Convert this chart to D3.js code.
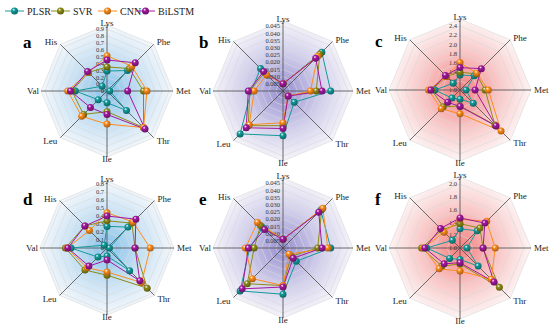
<!DOCTYPE html>
<html lang="en">
<head>
<meta charset="UTF-8">
<title>Radar</title>
<script src="https://d3js.org/d3.v7.min.js"></script>
<style>
  body { margin: 0; background: #fff; }
  text { font-family: "Liberation Serif", "DejaVu Serif", serif; }
</style>
</head>
<body>
<svg id="chart" width="550" height="325"></svg>
<script>
// axes, clockwise from the top
const axes = ["Lys", "Phe", "Met", "Thr", "Ile", "Leu", "Val", "His"];
const models = ["PLSR", "SVR", "CNN", "BiLSTM"];
const modelColors = ["#139a9a", "#8c8c14", "#ff8c1a", "#a3189f"];

// values per panel, order of axes
const aPLSR   = [0.29, 0.42, 0.04, 0.40, 0.17, 0.18, 0.46, 0.10];
const aSVR    = [0.35, 0.46, 0.53, 0.75, 0.30, 0.48, 0.51, 0.38];
const aCNN    = [0.51, 0.51, 0.58, 0.75, 0.48, 0.52, 0.57, 0.38];
const aBiLSTM = [0.45, 0.58, 0.30, 0.78, 0.34, 0.34, 0.53, 0.40];

const bPLSR   = [0.005, 0.038, 0.033, 0.011, 0.031, 0.042, 0.022, 0.022];
const bSVR    = [0.005, 0.036, 0.023, 0.005, 0.024, 0.034, 0.023, 0.018];
const bCNN    = [0.005, 0.034, 0.019, 0.005, 0.022, 0.033, 0.020, 0.016];
const bBiLSTM = [0.005, 0.032, 0.027, 0.005, 0.026, 0.036, 0.024, 0.019];

const cPLSR   = [1.33, 1.44, 1.13, 1.41, 1.20, 1.25, 1.55, 1.21];
const cSVR    = [1.39, 1.50, 1.55, 2.08, 1.35, 1.52, 1.62, 1.42];
const cCNN    = [1.60, 1.52, 1.62, 2.27, 1.52, 1.58, 1.69, 1.42];
const cBiLSTM = [1.49, 1.66, 1.33, 2.11, 1.36, 1.38, 1.64, 1.45];

const dPLSR   = [0.27, 0.37, 0.03, 0.40, 0.10, 0.16, 0.45, 0.05];
const dSVR    = [0.34, 0.44, 0.35, 0.71, 0.34, 0.39, 0.52, 0.39];
const dCNN    = [0.44, 0.46, 0.54, 0.61, 0.30, 0.35, 0.50, 0.31];
const dBiLSTM = [0.40, 0.51, 0.35, 0.58, 0.15, 0.32, 0.49, 0.39];

const ePLSR   = [0.006, 0.037, 0.033, 0.013, 0.032, 0.042, 0.023, 0.020];
const eSVR    = [0.006, 0.038, 0.024, 0.008, 0.026, 0.035, 0.020, 0.022];
const eCNN    = [0.006, 0.039, 0.031, 0.006, 0.026, 0.030, 0.026, 0.025];
const eBiLSTM = [0.006, 0.035, 0.027, 0.010, 0.027, 0.040, 0.024, 0.018];

const fPLSR   = [1.30, 1.38, 1.11, 1.40, 1.18, 1.23, 1.52, 1.17];
const fSVR    = [1.38, 1.44, 1.36, 1.87, 1.25, 1.40, 1.60, 1.40];
const fCNN    = [1.45, 1.59, 1.55, 1.69, 1.36, 1.46, 1.57, 1.35];
const fBiLSTM = [1.47, 1.55, 1.36, 1.75, 1.23, 1.35, 1.55, 1.43];

// tick labels on the Lys axis
const ticksA = ["0", "0.1", "0.2", "0.3", "0.4", "0.5", "0.6", "0.7", "0.8", "0.9"];
const ticksB = ["0.005", "0.010", "0.015", "0.020", "0.025", "0.030", "0.035", "0.040", "0.045"];
const ticksC = ["1.0", "1.2", "1.4", "1.6", "1.8", "2.0", "2.2", "2.4"];
const ticksD = ["0", "0.1", "0.2", "0.3", "0.4", "0.5", "0.6", "0.7", "0.8"];
const ticksF = ["1.0", "1.2", "1.4", "1.6", "1.8", "2.0"];

const panels = [
  {id: "a", cx: 107, cy: 91,  rOut: 66, base: 0,   top: 0.9,   rTop: 62, ticks: ticksA, theme: "blue",   data: [aPLSR, aSVR, aCNN, aBiLSTM]},
  {id: "b", cx: 283, cy: 91,  rOut: 70, base: 0,   top: 0.045, rTop: 65, ticks: ticksB, theme: "purple", data: [bPLSR, bSVR, bCNN, bBiLSTM]},
  {id: "c", cx: 460, cy: 90,  rOut: 71, base: 1.0, top: 2.4,   rTop: 64, ticks: ticksC, theme: "red",    data: [cPLSR, cSVR, cCNN, cBiLSTM]},
  {id: "d", cx: 107, cy: 248, rOut: 67, base: 0,   top: 0.8,   rTop: 64, ticks: ticksD, theme: "blue",   data: [dPLSR, dSVR, dCNN, dBiLSTM]},
  {id: "e", cx: 283, cy: 248, rOut: 70, base: 0,   top: 0.045, rTop: 65, ticks: ticksB, theme: "purple", data: [ePLSR, eSVR, eCNN, eBiLSTM]},
  {id: "f", cx: 460, cy: 248, rOut: 71, base: 1.0, top: 2.0,   rTop: 64, ticks: ticksF, theme: "red",    data: [fPLSR, fSVR, fCNN, fBiLSTM]}
];

const themes = {
  blue:   ["#86c1ea", "#cbe3f5", "#f5f8fb"],
  purple: ["#968fcf", "#d2cfec", "#f6f5fa"],
  red:    ["#f37f7f", "#f9c8c8", "#fdf5f5"]
};

const svg = d3.select("#chart");
const defs = svg.append("defs");

Object.entries(themes).forEach(([k, c]) => {
  const g = defs.append("radialGradient").attr("id", "bg-" + k);
  g.append("stop").attr("offset", "0%").attr("stop-color", c[0]);
  g.append("stop").attr("offset", "55%").attr("stop-color", c[1]);
  g.append("stop").attr("offset", "100%").attr("stop-color", c[2]);
});

models.forEach((m, i) => {
  const g = defs.append("radialGradient").attr("id", "ball-" + i)
    .attr("cx", "38%").attr("cy", "32%").attr("r", "70%");
  g.append("stop").attr("offset", "0%").attr("stop-color", "#ffffff");
  g.append("stop").attr("offset", "30%").attr("stop-color", modelColors[i]);
  g.append("stop").attr("offset", "100%").attr("stop-color", d3.color(modelColors[i]).darker(1.2));
});

const angle = i => i * Math.PI / 4;

panels.forEach(p => {
  const g = svg.append("g").attr("transform", `translate(${p.cx},${p.cy})`);
  const r = d3.scaleLinear().domain([p.base, p.top]).range([0, p.rTop]);
  const pt = (rad, i) => [rad * Math.sin(angle(i)), -rad * Math.cos(angle(i))];
  const octagon = rad => axes.map((a, i) => pt(rad, i));

  g.append("polygon")
    .attr("points", octagon(p.rOut).join(" "))
    .attr("fill", `url(#bg-${p.theme})`);

  // rings
  const tickVals = p.ticks.map(Number).filter(v => v > p.base);
  tickVals.concat([r.invert(p.rOut)]).forEach(v => {
    g.append("polygon")
      .attr("points", octagon(r(v)).join(" "))
      .attr("fill", "none")
      .attr("stroke", "#d9d9d9")
      .attr("stroke-width", 0.6);
  });

  // spokes
  axes.forEach((a, i) => {
    const [x, y] = pt(p.rOut, i);
    g.append("line").attr("x1", 0).attr("y1", 0).attr("x2", x).attr("y2", y)
      .attr("stroke", "#4a4a4a").attr("stroke-width", 0.8);
  });

  // tick labels
  g.selectAll(".tk").data(p.ticks).join("text")
    .attr("x", -3)
    .attr("y", d => -r(+d))
    .attr("dy", "0.35em")
    .attr("text-anchor", "end")
    .attr("font-size", 6.5)
    .attr("fill", "#333")
    .text(d => d);

  // axis names
  axes.forEach((a, i) => {
    const s = Math.sin(angle(i)), c = -Math.cos(angle(i));
    let x = p.rOut * s, y = p.rOut * c, anchor = "middle", dy = "0.35em";
    if (i === 0) { y += 1; dy = "0"; }
    else if (i === 4) { y += 2; dy = "0.35em"; }
    else if (i === 2) { x += 3; anchor = "start"; }
    else if (i === 6) { x -= 2; anchor = "end"; }
    else {
      x += s > 0 ? 3 : -3;
      y += c > 0 ? 3 : -2;
      anchor = s > 0 ? "start" : "end";
    }
    g.append("text").attr("x", x).attr("y", y).attr("dy", dy)
      .attr("text-anchor", anchor).attr("font-size", 9).attr("fill", "#222")
      .text(a);
  });

  // series
  const line = d3.lineRadial()
    .angle((d, i) => angle(i))
    .radius(d => r(d))
    .curve(d3.curveLinearClosed);

  p.data.forEach((vals, k) => {
    g.append("path").attr("d", line(vals))
      .attr("fill", "none").attr("stroke", modelColors[k]).attr("stroke-width", 1);
  });
  p.data.forEach((vals, k) => {
    g.selectAll(null).data(vals).join("circle")
      .attr("cx", (d, i) => pt(r(d), i)[0])
      .attr("cy", (d, i) => pt(r(d), i)[1])
      .attr("r", 3.5)
      .attr("fill", `url(#ball-${k})`);
  });

  svg.append("text")
    .attr("x", p.cx - 84 + (p.id === "c" || p.id === "f" ? -1 : 0))
    .attr("y", p.cy - 43)
    .attr("font-size", 17).attr("font-weight", "bold").attr("fill", "#000")
    .text(p.id);
});

// legend
const legX = [5, 51, 98, 136];
const legend = svg.append("g").attr("transform", "translate(0,11)");
models.forEach((m, i) => {
  const x = legX[i];
  legend.append("line").attr("x1", x).attr("x2", x + 19).attr("y1", 0).attr("y2", 0)
    .attr("stroke", modelColors[i]).attr("stroke-width", 1);
  legend.append("circle").attr("cx", x + 9.5).attr("cy", 0).attr("r", 3.5)
    .attr("fill", `url(#ball-${i})`);
  legend.append("text").attr("x", x + 22).attr("y", 0).attr("dy", "0.35em")
    .attr("font-size", 10).attr("fill", "#222").text(m);
});
</script>
</body>
</html>
